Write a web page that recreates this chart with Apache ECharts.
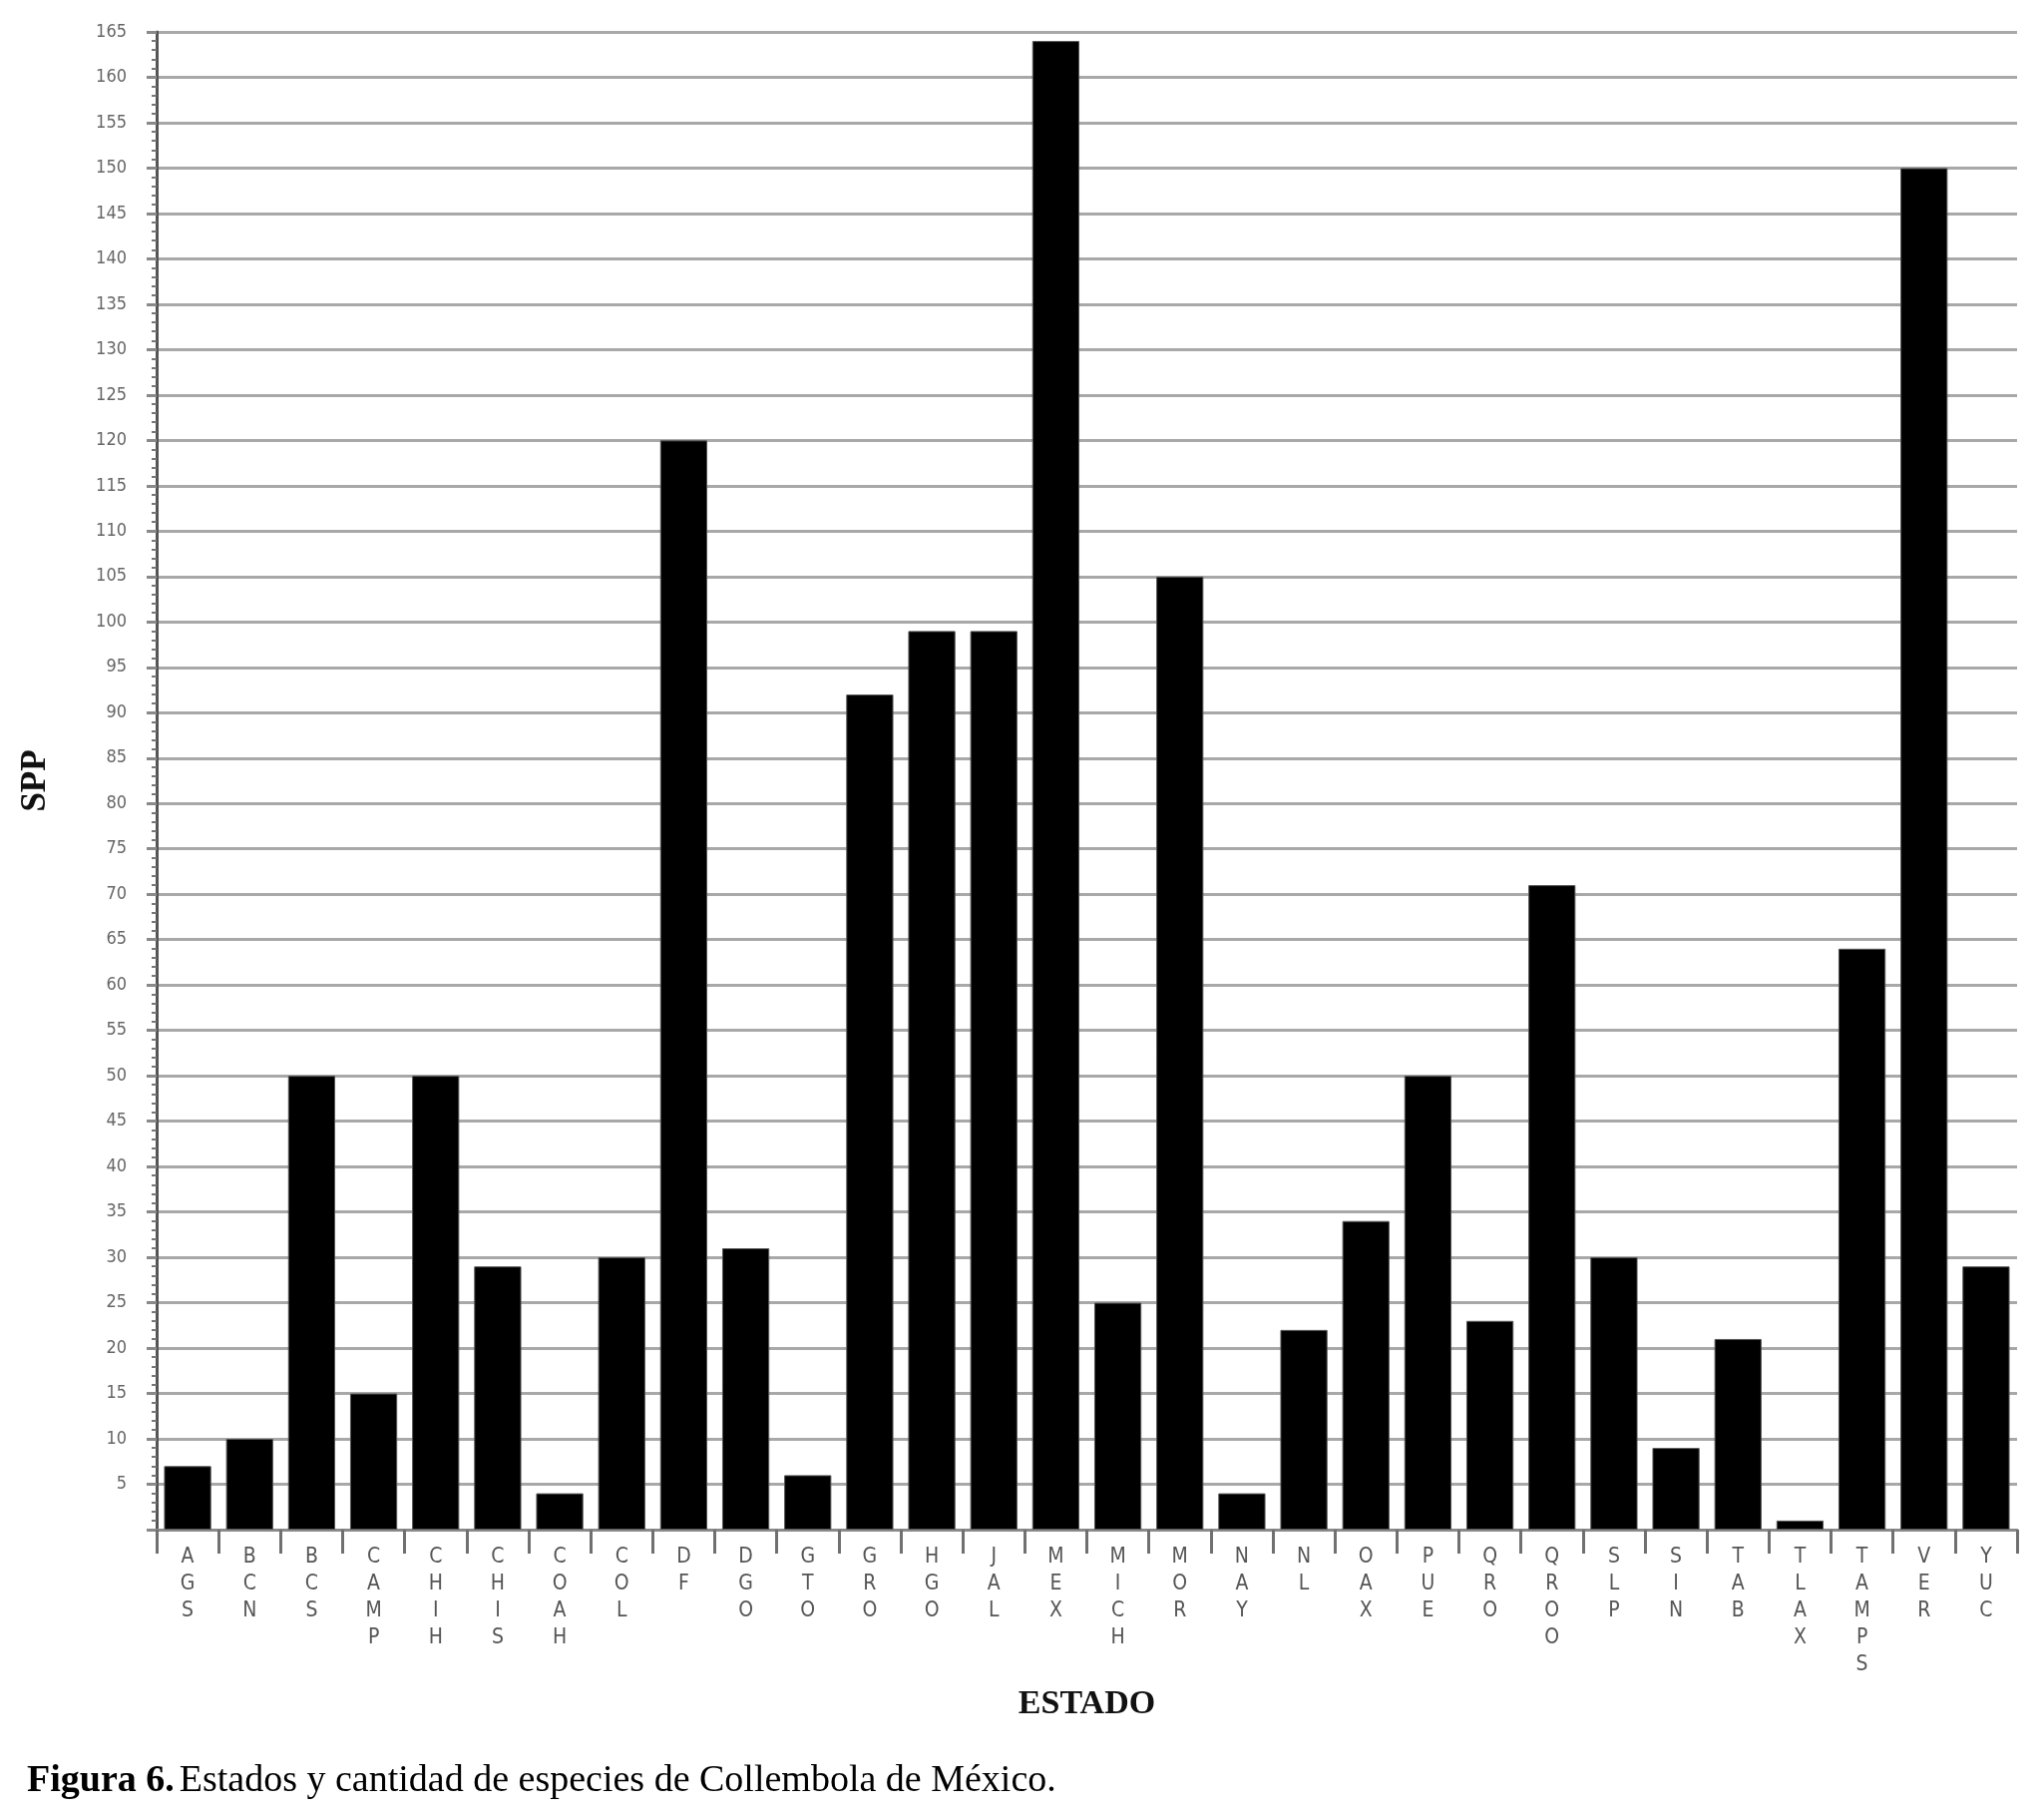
<!DOCTYPE html>
<html>
<head>
<meta charset="utf-8">
<title>Collembola de México</title>
<script src="https://cdn.jsdelivr.net/npm/echarts@6/dist/echarts.min.js"></script>
<style>
  html, body { margin: 0; padding: 0; background: #fff; }
  #chart { width: 2049px; height: 1824px; }
</style>
</head>
<body>
<div id="chart"></div>
<script>
// states (abbreviations) and number of species
const estados = ['AGS', 'BCN', 'BCS', 'CAMP', 'CHIH', 'CHIS', 'COAH', 'COL', 'DF', 'DGO',
  'GTO', 'GRO', 'HGO', 'JAL', 'MEX', 'MICH', 'MOR', 'NAY', 'NL', 'OAX',
  'PUE', 'QRO', 'QROO', 'SLP', 'SIN', 'TAB', 'TLAX', 'TAMPS', 'VER', 'YUC']
const especies = [7, 10, 50, 15, 50, 29, 4, 30, 120, 31,
  6, 92, 99, 99, 164, 25, 105, 4, 22, 34,
  50, 23, 71, 30, 9, 21, 1, 64, 150, 29]
const yMin = 0
const yMax = 165
const yStep = 5

const labelFont = "'Liberation Sans Narrow', 'DejaVu Sans Condensed', 'Open Sans', sans-serif"
const serifFont = "'Liberation Serif', 'Times New Roman', serif"

const chart = echarts.init(document.getElementById('chart'))

chart.setOption({
  backgroundColor: '#fff',
  animation: false,
  title: {
    left: 22,
    top: 1761,
    text: '{b|Figura 6.} {n|Estados y cantidad de especies de Collembola de México.}',
    textStyle: {
      fontWeight: 'normal',
      rich: {
        b: { fontFamily: serifFont, fontSize: 38, fontWeight: 'bold', color: '#000' },
        n: { fontFamily: serifFont, fontSize: 38, fontWeight: 'normal', color: '#000' }
      }
    }
  },
  grid: {
    left: 157,
    right: 27,
    top: 32,
    bottom: 291,
    containLabel: false
  },
  xAxis: {
    type: 'category',
    data: estados,
    name: 'ESTADO',
    nameLocation: 'middle',
    nameGap: 158,
    nameTextStyle: { fontFamily: serifFont, fontSize: 34, fontWeight: 'bold', color: '#111' },
    axisLine: { lineStyle: { color: '#8a8a8a', width: 3 } },
    axisTick: { show: true, length: 24, lineStyle: { color: '#707070', width: 3 } },
    axisLabel: {
      interval: 0,
      margin: 14,
      color: '#555',
      fontFamily: labelFont,
      fontSize: 21,
      lineHeight: 27,
      formatter: v => v.split('').join('\n')
    }
  },
  yAxis: {
    type: 'value',
    min: yMin,
    max: yMax,
    interval: yStep,
    name: 'SPP',
    nameLocation: 'middle',
    nameGap: 104,
    nameTextStyle: { fontFamily: serifFont, fontSize: 35, fontWeight: 'bold', color: '#111' },
    axisLine: { show: true, lineStyle: { color: '#555', width: 3 } },
    axisTick: { show: true, length: 10, lineStyle: { color: '#8a8a8a', width: 3 } },
    minorTick: { show: true, splitNumber: 5, length: 5, lineStyle: { color: '#777', width: 2 } },
    axisLabel: {
      color: '#666',
      fontFamily: labelFont,
      fontSize: 18,
      margin: 30,
      formatter: v => (v === 0 ? '' : String(v))
    },
    splitLine: { show: true, lineStyle: { color: '#a8a8a8', width: 3 } }
  },
  series: [
    {
      name: 'SPP',
      type: 'bar',
      data: especies,
      barWidth: '76%',
      itemStyle: { color: '#000', borderColor: '#555', borderWidth: 1 }
    }
  ]
})
</script>
</body>
</html>
